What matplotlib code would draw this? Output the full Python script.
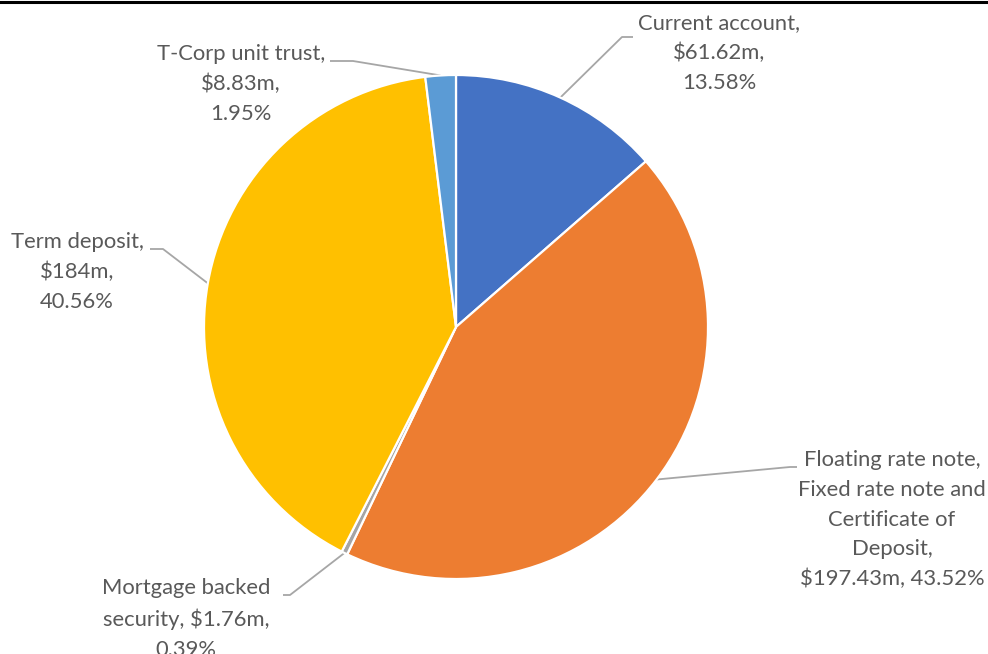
import numpy as np
import matplotlib
matplotlib.use('Agg')
import matplotlib.pyplot as plt
from matplotlib.lines import Line2D

plt.rcParams['font.family'] = ['Lato', 'DejaVu Sans']

# portfolio pieces, clockwise from 12 o'clock
labels = ['Current account,\n$61.62m,\n13.58%',
          'Floating rate note,\nFixed rate note and\nCertificate of\nDeposit,\n$197.43m, 43.52%',
          'Mortgage backed\nsecurity, $1.76m,\n0.39%',
          'Term deposit,\n$184m,\n40.56%',
          'T-Corp unit trust,\n$8.83m,\n1.95%']
values = [61.62, 197.43, 1.76, 184.0, 8.83]
colors = ['#4472C4', '#ED7D31', '#A5A5A5', '#FFC000', '#5B9BD5']

# label centre positions (pixels) and where the leader elbow sits
lab_xy = [(719, 601), (892, 134), (186, 35), (77, 382), (241, 570)]
elbow = [(633, 617, 622, 617), (797, 187, 790, 187), (283, 59, 290, 59),
         (150, 405, 163, 405), (330, 593, 353, 593)]

W, H = 988, 654
fig = plt.figure(figsize=(W / 100, H / 100), dpi=100)
ax = fig.add_axes([0, 0, 1, 1])

cx, cy, r = 456, H - 327, 252
wedges, _ = ax.pie(values, colors=colors, startangle=90, counterclock=False,
                   center=(cx, cy), radius=r, frame=False,
                   wedgeprops=dict(edgecolor='white', linewidth=1.6))
ax.set_xlim(0, W)
ax.set_ylim(0, H)
ax.set_aspect('equal')
ax.axis('off')

for w, lab, (tx, ty), (ex0, ey0, ex1, ey1) in zip(wedges, labels, lab_xy, elbow):
    mid = np.deg2rad((w.theta1 + w.theta2) / 2)
    px, py = cx + r * np.cos(mid), cy + r * np.sin(mid)
    ax.plot([ex0, ex1, px], [ey0, ey1, py], color='#A6A6A6', lw=1.3,
            solid_capstyle='butt', zorder=0)
    ax.text(tx, ty, lab, ha='center', va='center', multialignment='center',
            fontsize=15.8, color='#595959', linespacing=1.6)

# top border line
fig.add_artist(Line2D([0, 1], [1 - 1.5 / H, 1 - 1.5 / H], color='black',
                      lw=2.2, transform=fig.transFigure))

fig.savefig('out.png', dpi=100)
